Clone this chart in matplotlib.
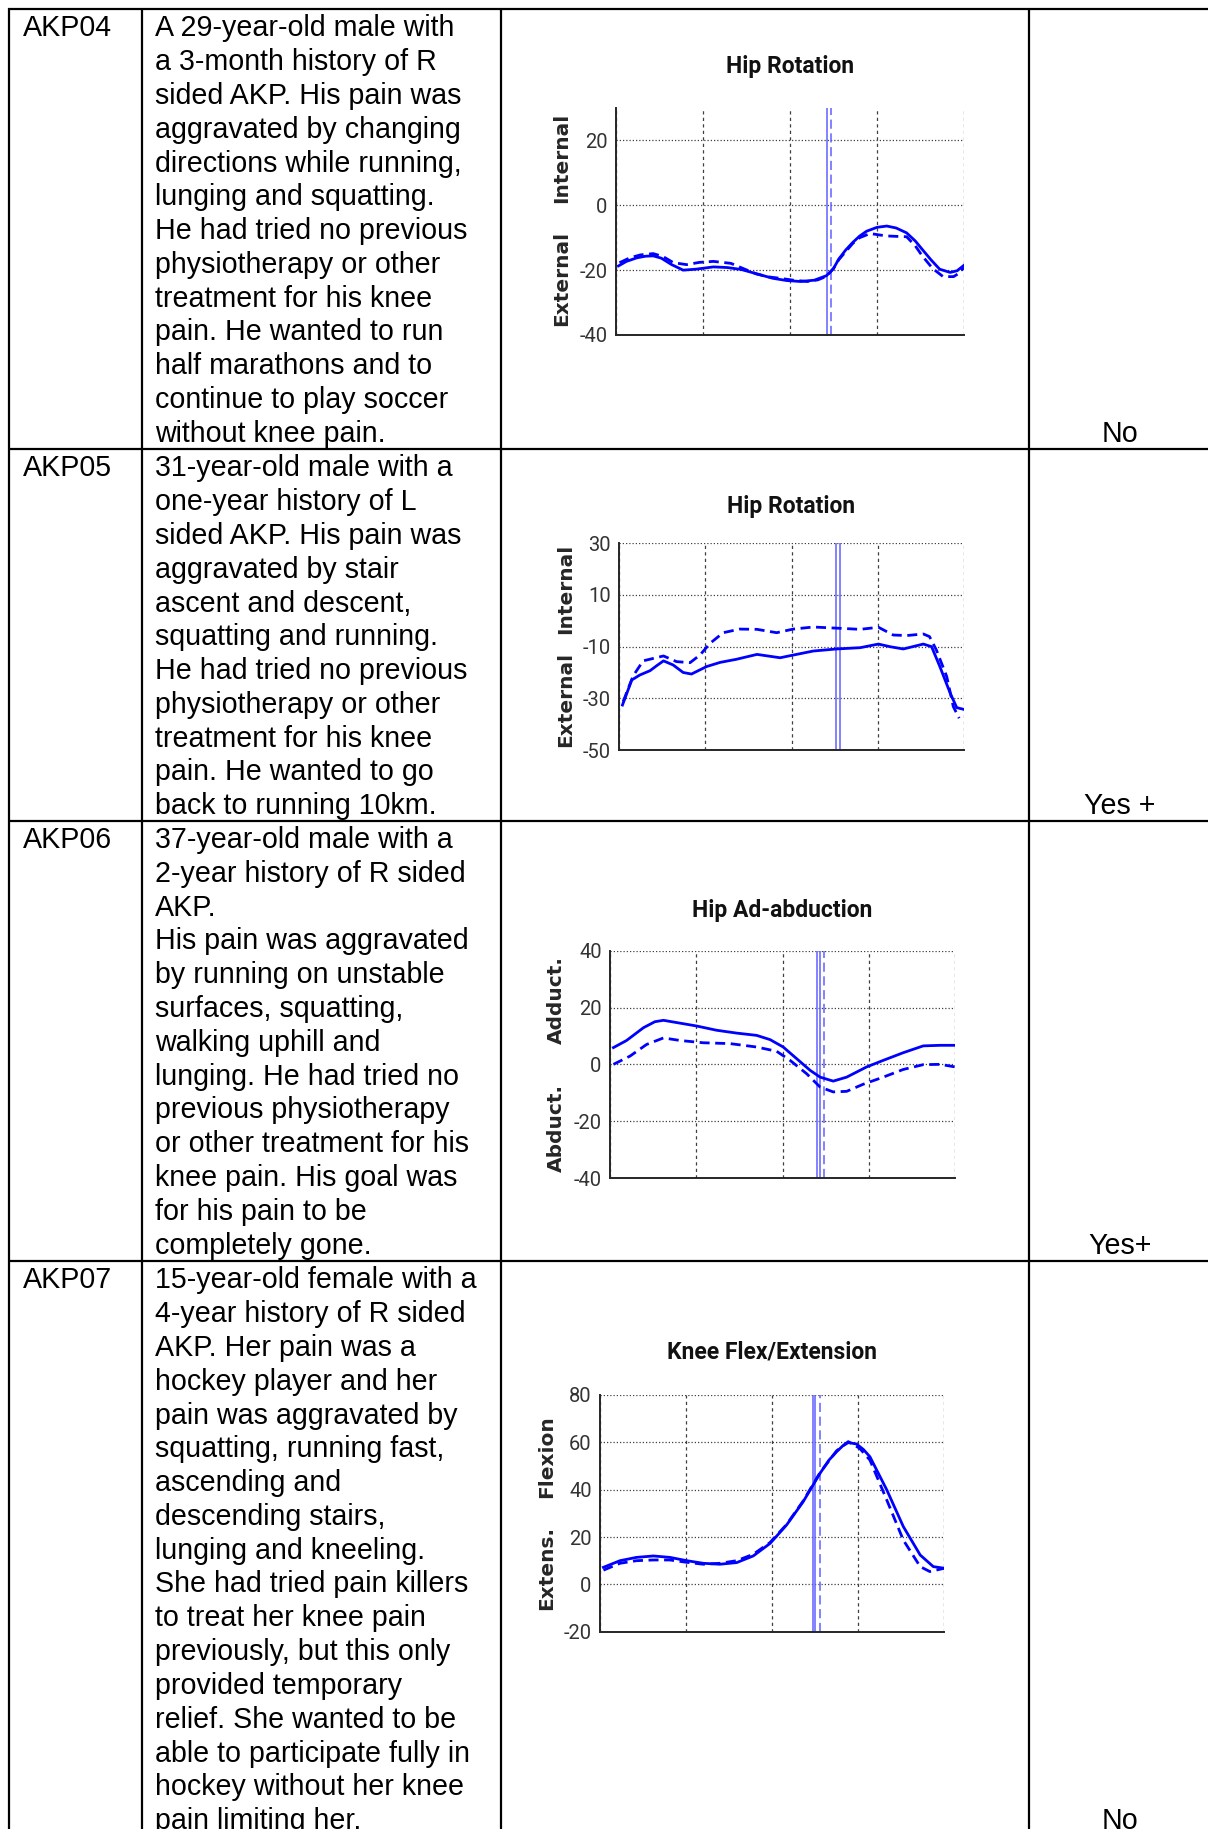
import matplotlib
matplotlib.use("Agg")
import matplotlib.pyplot as plt

# ---------------- data ----------------
ids = ["AKP04", "AKP05", "AKP06", "AKP07"]
outcomes = ["No", "Yes +", "Yes+", "No"]
descriptions = [
    ["A 29-year-old male with", "a 3-month history of R", "sided AKP. His pain was",
     "aggravated by changing", "directions while running,", "lunging and squatting.",
     "He had tried no previous", "physiotherapy or other", "treatment for his knee",
     "pain. He wanted to run", "half marathons and to", "continue to play soccer",
     "without knee pain."],
    ["31-year-old male with a", "one-year history of L", "sided AKP. His pain was",
     "aggravated by stair", "ascent and descent,", "squatting and running.",
     "He had tried no previous", "physiotherapy or other", "treatment for his knee",
     "pain. He wanted to go", "back to running 10km."],
    ["37-year-old male with a", "2-year history of R sided", "AKP.",
     "His pain was aggravated", "by running on unstable", "surfaces, squatting,",
     "walking uphill and", "lunging. He had tried no", "previous physiotherapy",
     "or other treatment for his", "knee pain. His goal was", "for his pain to be",
     "completely gone."],
    ["15-year-old female with a", "4-year history of R sided", "AKP. Her pain was a",
     "hockey player and her", "pain was aggravated by", "squatting, running fast,",
     "ascending and", "descending stairs,", "lunging and kneeling.",
     "She had tried pain killers", "to treat her knee pain", "previously, but this only",
     "provided temporary", "relief. She wanted to be", "able to participate fully in",
     "hockey without her knee", "pain limiting her."],
]

plot_titles = ["Hip Rotation", "Hip Rotation", "Hip Ad-abduction", "Knee Flex/Extension"]
label_low = ["External", "External", "Abduct.", "Extens."]
label_high = ["Internal", "Internal", "Adduct.", "Flexion"]
y_limits = [(-40, 30), (-50, 30), (-40, 40), (-20, 80)]
y_ticks = [[-40, -20, 0, 20], [-50, -30, -10, 10, 30], [-40, -20, 0, 20, 40],
           [-20, 0, 20, 40, 60, 80]]
x_ticks = [0, 25, 50, 75, 100]

p1_x_solid = [0.7, 3, 6, 8.5, 10.7, 13, 16, 19.3, 23, 28, 32, 36, 40, 45, 49, 53, 57, 60.5,
              62.5, 64, 66, 68, 70, 72, 75, 77.8, 80.5, 83.5, 86, 88, 90.5, 93, 96, 98, 100]
p1_y_solid = [-18.7, -17.3, -16.2, -15.7, -15.6, -16.3, -18.3, -20, -19.7, -19, -19.2, -19.8,
              -21, -22.5, -23.2, -23.5, -23.1, -21.7, -19.5, -16.6, -13.8, -11.5, -9.5, -8,
              -6.8, -6.4, -7, -8.5, -11, -13.6, -16.8, -19.7, -20.7, -20.2, -18.5]
p1_x_dash = [1, 4, 7, 10.7, 13.5, 16.5, 20.3, 24, 28, 33, 37, 40.4, 44, 47, 51, 55, 58, 60.5,
             62.5, 64, 68, 70, 73, 76, 78.7, 81, 83.5, 86, 88, 91, 94, 97, 98.5, 100]
p1_y_dash = [-17.7, -16.2, -15.3, -14.9, -15.8, -17.7, -18.3, -17.6, -17.3, -17.9, -19.7,
             -21.2, -22.1, -22.5, -23.1, -23.5, -23, -21.9, -19.5, -16.8, -11.8, -10, -8.7,
             -9.2, -9.5, -9.6, -9.7, -12.5, -15.6, -19.5, -22, -22, -21, -19.2]
p1_vl_solid = [60.7]
p1_vl_dash = [61.7]

p2_x_solid = [1, 3.7, 6, 9, 11, 12.9, 15.7, 18.6, 21, 25.4, 29.3, 34, 40, 46.7, 49.6, 56.3,
              63, 69.9, 75.2, 78.5, 82.4, 88.2, 90.6, 93, 96, 97.9, 100]
p2_y_solid = [-32.6, -22.9, -21, -19.3, -17.3, -15.5, -17.1, -20, -20.6, -17.7, -16.1, -14.9,
              -13, -14.3, -13.5, -11.7, -10.9, -10.4, -9, -10, -10.9, -9, -10, -17.7, -28,
              -33.6, -34.3]
p2_x_dash = [1.2, 4.1, 7, 12.9, 16.7, 20.6, 23.5, 26.4, 30.2, 35, 40, 45.7, 50.5, 56.3, 64,
             69.9, 75.2, 79.5, 83.4, 88.2, 90, 92, 95, 96.9, 98.6]
p2_y_dash = [-31.3, -21.3, -15.5, -13.6, -15.8, -16.2, -13.2, -8.7, -4.6, -3.2, -3.3, -4.6,
             -3.2, -2.4, -2.9, -3.3, -2.5, -5.5, -5.7, -5.1, -6.1, -11.3, -21.6, -33.2, -37.7]
p2_vl_solid = [62.9, 64.1]
p2_vl_dash = []

p3_x_solid = [1, 4.8, 9.7, 13, 15.5, 20.3, 25.1, 30.9, 36.7, 42.5, 46.4, 50.2, 54.1, 58, 60.9,
              64.7, 68.6, 74.4, 79.2, 85, 90.8, 95.7, 100]
p3_y_solid = [5.9, 8.4, 12.9, 15, 15.5, 14.5, 13.5, 12, 11, 10.2, 8.7, 6.1, 2, -2.1, -4.5,
              -5.9, -4.5, -0.9, 1.4, 4.1, 6.5, 6.7, 6.7]
p3_x_dash = [1, 5.8, 10.6, 15.5, 20.3, 27, 34.8, 42.5, 48.3, 52.2, 57, 60.9, 64.7, 68.6,
             73.4, 79.2, 85, 90.8, 95.7, 100]
p3_y_dash = [0, 2.9, 7, 9.3, 8.4, 7.6, 7.3, 6.1, 4.6, 1.4, -3.3, -8, -9.7, -9.5, -7, -4.5,
             -1.8, -0.1, 0, -0.9]
p3_vl_solid = [59.9, 60.9]
p3_vl_dash = [62.0]

p4_x_solid = [1, 5.8, 10.6, 15.5, 20.3, 25.2, 30, 34.8, 39.7, 44.5, 49.4, 54.2, 59, 63.9,
              66.5, 68.7, 70.5, 72.1, 74.5, 76.5, 78.4, 83.3, 88.1, 93, 96.8, 100]
p4_y_solid = [7.2, 10, 11.4, 12, 11.4, 10, 8.9, 8.5, 9.2, 12, 17.3, 25.1, 34.9, 46.9, 52.5,
              56, 58.5, 59.9, 59.3, 57, 53.9, 39.9, 24.4, 12.4, 7.5, 6.8]
p4_x_dash = [1, 5.8, 10.6, 15.5, 20.3, 25.2, 30, 34.8, 39.7, 44.5, 49.4, 54.2, 59, 63.9,
             68.7, 72.1, 75.4, 78.4, 83.3, 88.1, 93, 95.8, 100]
p4_y_dash = [6, 8.9, 10, 10.3, 10.3, 9.3, 8.5, 8.9, 10, 12.7, 17.7, 25.3, 35.2, 47.2, 56.4,
             60.3, 57.5, 52.5, 35.6, 18.7, 7.5, 5.4, 6.8]
p4_vl_solid = [61.8, 62.5]
p4_vl_dash = [63.9]

series = [
    (p1_x_solid, p1_y_solid, p1_x_dash, p1_y_dash, p1_vl_solid, p1_vl_dash),
    (p2_x_solid, p2_y_solid, p2_x_dash, p2_y_dash, p2_vl_solid, p2_vl_dash),
    (p3_x_solid, p3_y_solid, p3_x_dash, p3_y_dash, p3_vl_solid, p3_vl_dash),
    (p4_x_solid, p4_y_solid, p4_x_dash, p4_y_dash, p4_vl_solid, p4_vl_dash),
]

# ---------------- layout (pixels) ----------------
W, H, DPI = 1208, 1829, 100
NARROW = ["Roboto", "DejaVu Sans"]
plt.rcParams["font.family"] = NARROW

fig = plt.figure(figsize=(W / DPI, H / DPI), dpi=DPI)
fig.patch.set_facecolor("white")
bg = fig.add_axes([0, 0, 1, 1])
bg.set_xlim(0, W)
bg.set_ylim(H, 0)
bg.axis("off")

col_x = [8.5, 141.5, 501, 1029]
row_y = [9, 449, 820.7, 1261]
line_kw = dict(color="black", lw=1.6, solid_capstyle="butt")
for x in col_x:
    bg.plot([x, x], [row_y[0] - 1, H], **line_kw)
for y in row_y:
    bg.plot([col_x[0] - 1, W], [y, y], **line_kw)

body_font = dict(family=["Liberation Sans", "DejaVu Sans"], fontsize=20.6,
                 color="black", va="baseline")
line_step = 33.8
for r in range(4):
    base = row_y[r] + 27.3
    bg.text(23, base, ids[r], ha="left", **body_font)
    for i, ln in enumerate(descriptions[r]):
        bg.text(155, base + i * line_step, ln, ha="left", **body_font)
    last = base + (len(descriptions[r]) - 1) * line_step
    bg.text(1120, last, outcomes[r], ha="center", **body_font)

# axes boxes: left, right, top, bottom (px)
boxes = [(616, 964, 108, 335), (619, 964, 543.3, 750), (610, 955, 950.7, 1178),
         (600, 944.3, 1395, 1631.7)]
title_pos = [(790, 67), (791.5, 506.7), (782.5, 910), (772, 1351.7)]
lab_frac = [(0.247, 0.78), (0.247, 0.78), (0.222, 0.783), (0.27, 0.739)]

blue = "#0000ff"
evt = "#6060ff"
for k in range(4):
    l, r, t, b = boxes[k]
    ax = fig.add_axes([l / W, 1 - b / H, (r - l) / W, (b - t) / H])
    xs, ys, xd, yd, vls, vld = series[k]
    ax.set_xlim(0, 100)
    ax.set_ylim(*y_limits[k])
    ax.set_xticks(x_ticks)
    ax.set_xticklabels([])
    ax.set_yticks(y_ticks[k])
    ax.set_yticklabels([str(v) for v in y_ticks[k]])
    ax.tick_params(axis="both", length=0, pad=6, labelsize=14.5, labelcolor="#333333")
    ax.yaxis.grid(True, linestyle=(0, (1, 1.6)), color="#404040", lw=0.9)
    ax.xaxis.grid(True, linestyle=(0, (2.6, 2.6)), color="#404040", lw=0.9)
    ax.set_axisbelow(True)
    for side in ("top", "right"):
        ax.spines[side].set_visible(False)
    for side in ("left", "bottom"):
        ax.spines[side].set_color("#262626")
        ax.spines[side].set_linewidth(1.4)
    for v in vls:
        ax.axvline(v, color=evt, lw=1.1)
    for v in vld:
        ax.axvline(v, color=evt, lw=1.1, linestyle=(0, (6, 3)))
    ax.plot(xs, ys, color=blue, lw=2.0, solid_joinstyle="round")
    ax.plot(xd, yd, color=blue, lw=2.0, linestyle=(0, (3.6, 2.0)))
    for spine in ax.spines.values():
        spine.set_zorder(5)
    lo, hi = lab_frac[k]
    lab_kw = dict(transform=ax.transAxes, rotation=90, ha="center", va="center",
                  fontweight="bold", family=["DejaVu Sans"], fontsize=14.5, color="#262626")
    ax.text(-0.155, lo, label_low[k], **lab_kw)
    ax.text(-0.155, hi, label_high[k], **lab_kw)
    tx, ty = title_pos[k]
    bg.text(tx, ty, plot_titles[k], ha="center", va="center", fontsize=16.5,
            fontweight="bold", family=NARROW, color="#111111")

fig.savefig("out.png", dpi=DPI, facecolor="white")
